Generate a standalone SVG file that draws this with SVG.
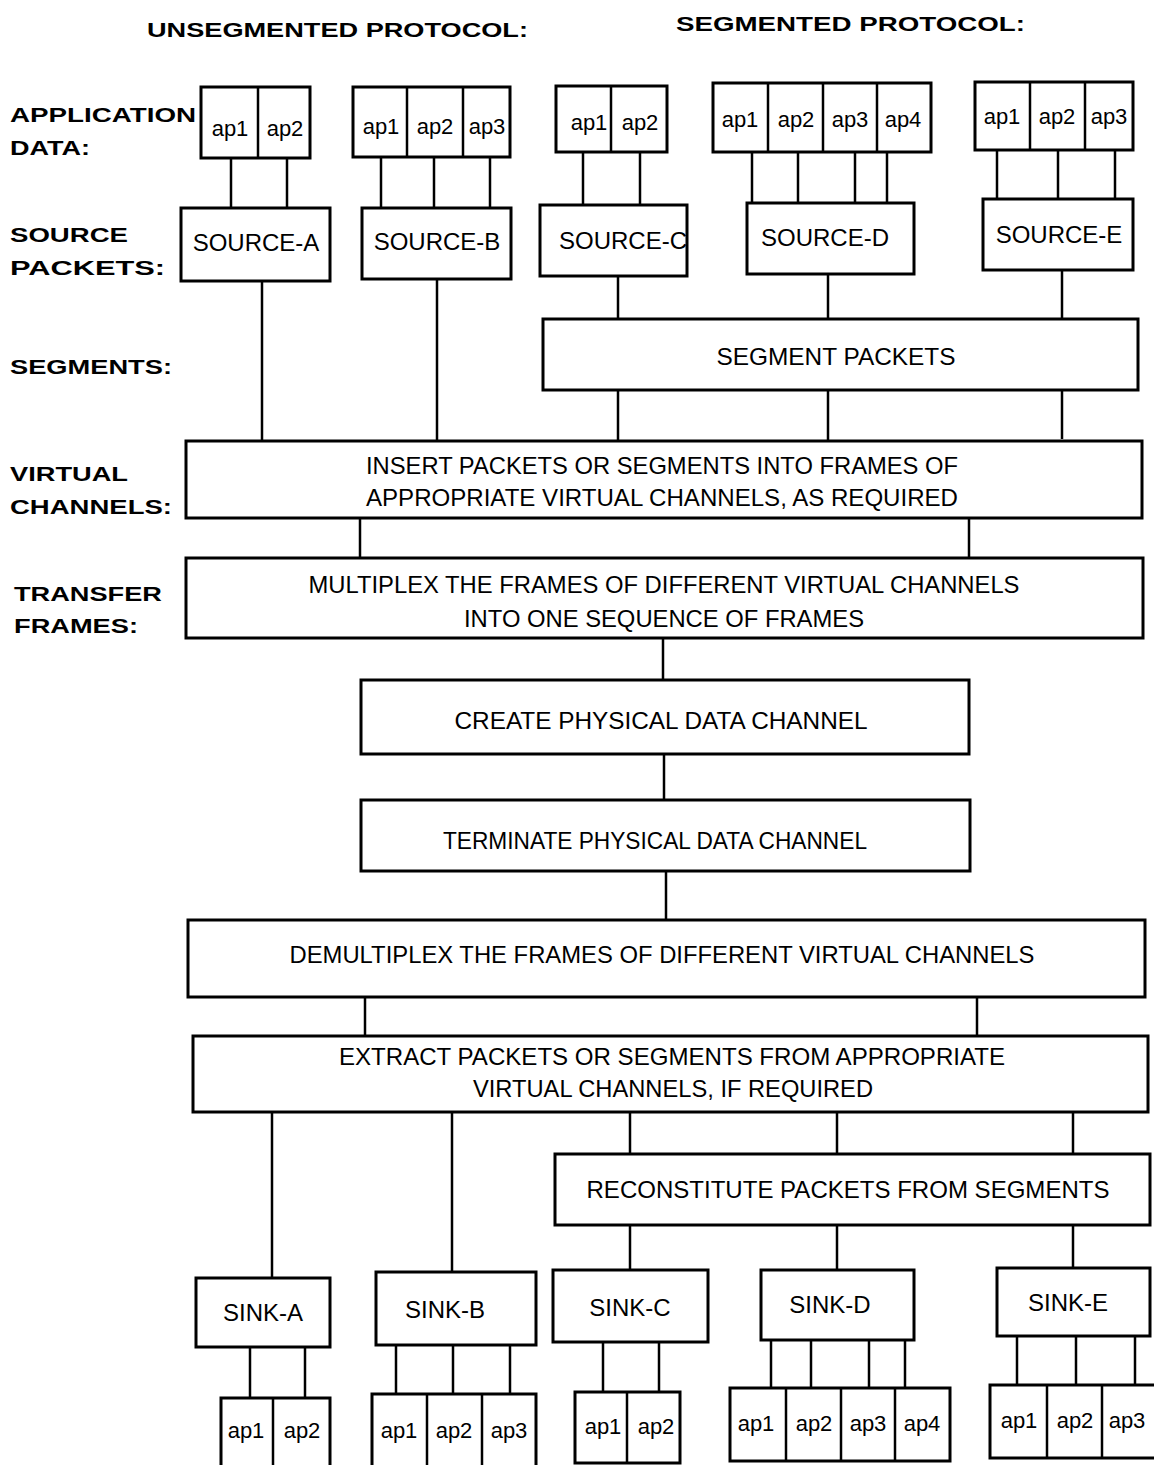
<svg xmlns="http://www.w3.org/2000/svg" width="1154" height="1465" viewBox="0 0 1154 1465">
<style>
.bg{fill:#fff}
.box{fill:#fff;stroke:#000;stroke-width:3}
.dv{stroke:#000;stroke-width:2.5}
.ln{stroke:#000;stroke-width:2.5;fill:none}
.t{font-family:"Liberation Sans",Arial,sans-serif;font-size:24px;text-anchor:middle;fill:#000}
.ap{font-family:"Liberation Sans",Arial,sans-serif;font-size:22px;text-anchor:middle;fill:#000}
.lbl{font-family:"Liberation Sans",Arial,sans-serif;font-size:21px;font-weight:bold;fill:#000}
.hd{font-family:"Liberation Sans",Arial,sans-serif;font-size:21px;font-weight:bold;fill:#000}
</style>
<rect class="bg" x="0" y="0" width="1154" height="1465"/>

<g id="headings">
<text class="hd" x="147" y="37" textLength="381" lengthAdjust="spacingAndGlyphs">UNSEGMENTED  PROTOCOL:</text>
<text class="hd" x="676" y="31" textLength="349" lengthAdjust="spacingAndGlyphs">SEGMENTED  PROTOCOL:</text>
</g>

<g id="row-labels">
<text class="lbl" x="10" y="122" textLength="186" lengthAdjust="spacingAndGlyphs">APPLICATION</text>
<text class="lbl" x="10" y="155" textLength="80" lengthAdjust="spacingAndGlyphs">DATA:</text>
<text class="lbl" x="10" y="242" textLength="118" lengthAdjust="spacingAndGlyphs">SOURCE</text>
<text class="lbl" x="10" y="275" textLength="155" lengthAdjust="spacingAndGlyphs">PACKETS:</text>
<text class="lbl" x="10" y="374" textLength="162" lengthAdjust="spacingAndGlyphs">SEGMENTS:</text>
<text class="lbl" x="10" y="481" textLength="118" lengthAdjust="spacingAndGlyphs">VIRTUAL</text>
<text class="lbl" x="10" y="514" textLength="162" lengthAdjust="spacingAndGlyphs">CHANNELS:</text>
<text class="lbl" x="14" y="601" textLength="148" lengthAdjust="spacingAndGlyphs">TRANSFER</text>
<text class="lbl" x="14" y="633" textLength="124" lengthAdjust="spacingAndGlyphs">FRAMES:</text>
</g>

<g id="connectors">
<line class="ln" x1="231" y1="158" x2="231" y2="208"/>
<line class="ln" x1="287" y1="158" x2="287" y2="208"/>
<line class="ln" x1="381" y1="157" x2="381" y2="208"/>
<line class="ln" x1="434" y1="157" x2="434" y2="208"/>
<line class="ln" x1="490" y1="157" x2="490" y2="208"/>
<line class="ln" x1="583" y1="152" x2="583" y2="205"/>
<line class="ln" x1="640" y1="152" x2="640" y2="205"/>
<line class="ln" x1="752" y1="152" x2="752" y2="203"/>
<line class="ln" x1="798" y1="152" x2="798" y2="203"/>
<line class="ln" x1="855" y1="152" x2="855" y2="203"/>
<line class="ln" x1="887" y1="152" x2="887" y2="203"/>
<line class="ln" x1="997" y1="150" x2="997" y2="199"/>
<line class="ln" x1="1058" y1="150" x2="1058" y2="199"/>
<line class="ln" x1="1115" y1="150" x2="1115" y2="199"/>
<line class="ln" x1="262" y1="281" x2="262" y2="446"/>
<line class="ln" x1="437" y1="279" x2="437" y2="444"/>
<line class="ln" x1="618" y1="276" x2="618" y2="320"/>
<line class="ln" x1="828" y1="274" x2="828" y2="320"/>
<line class="ln" x1="1062" y1="270" x2="1062" y2="320"/>
<line class="ln" x1="618" y1="390" x2="618" y2="442"/>
<line class="ln" x1="828" y1="390" x2="828" y2="441"/>
<line class="ln" x1="1062" y1="390" x2="1062" y2="439"/>
<line class="ln" x1="360" y1="518" x2="360" y2="559"/>
<line class="ln" x1="969" y1="516" x2="969" y2="558"/>
<line class="ln" x1="663" y1="638" x2="663" y2="680"/>
<line class="ln" x1="664" y1="754" x2="664" y2="800"/>
<line class="ln" x1="666" y1="871" x2="666" y2="920"/>
<line class="ln" x1="365" y1="997" x2="365" y2="1037"/>
<line class="ln" x1="977" y1="996" x2="977" y2="1036"/>
<line class="ln" x1="272" y1="1112" x2="272" y2="1278"/>
<line class="ln" x1="452" y1="1112" x2="452" y2="1272"/>
<line class="ln" x1="630" y1="1112" x2="630" y2="1155"/>
<line class="ln" x1="837" y1="1112" x2="837" y2="1154"/>
<line class="ln" x1="1073" y1="1111" x2="1073" y2="1153"/>
<line class="ln" x1="630" y1="1225" x2="630" y2="1270"/>
<line class="ln" x1="837" y1="1224" x2="837" y2="1270"/>
<line class="ln" x1="1073" y1="1223" x2="1073" y2="1268"/>
<line class="ln" x1="250" y1="1347" x2="250" y2="1398"/>
<line class="ln" x1="305" y1="1347" x2="305" y2="1398"/>
<line class="ln" x1="396" y1="1345" x2="396" y2="1394"/>
<line class="ln" x1="453" y1="1345" x2="453" y2="1394"/>
<line class="ln" x1="510" y1="1345" x2="510" y2="1394"/>
<line class="ln" x1="603" y1="1342" x2="603" y2="1392"/>
<line class="ln" x1="659" y1="1342" x2="659" y2="1392"/>
<line class="ln" x1="771" y1="1340" x2="771" y2="1388"/>
<line class="ln" x1="811" y1="1340" x2="811" y2="1388"/>
<line class="ln" x1="869" y1="1340" x2="869" y2="1388"/>
<line class="ln" x1="905" y1="1340" x2="905" y2="1388"/>
<line class="ln" x1="1017" y1="1336" x2="1017" y2="1385"/>
<line class="ln" x1="1076" y1="1336" x2="1076" y2="1385"/>
<line class="ln" x1="1135" y1="1336" x2="1135" y2="1385"/>
</g>

<g id="apdata-A">
<rect class="box" x="201" y="87" width="109" height="71"/>
<line class="dv" x1="258" y1="87" x2="258" y2="158"/>
<text class="ap" x="230" y="136">ap1</text><text class="ap" x="285" y="136">ap2</text>
</g>
<g id="apdata-B">
<rect class="box" x="353" y="87" width="157" height="70"/>
<line class="dv" x1="407" y1="87" x2="407" y2="157"/>
<line class="dv" x1="463" y1="87" x2="463" y2="157"/>
<text class="ap" x="381" y="134">ap1</text><text class="ap" x="435" y="134">ap2</text><text class="ap" x="487" y="134">ap3</text>
</g>
<g id="apdata-C">
<rect class="box" x="556" y="86" width="111" height="66"/>
<line class="dv" x1="611" y1="86" x2="611" y2="152"/>
<text class="ap" x="589" y="130">ap1</text><text class="ap" x="640" y="130">ap2</text>
</g>
<g id="apdata-D">
<rect class="box" x="713" y="83" width="218" height="69"/>
<line class="dv" x1="768" y1="83" x2="768" y2="152"/>
<line class="dv" x1="823" y1="83" x2="823" y2="152"/>
<line class="dv" x1="877" y1="83" x2="877" y2="152"/>
<text class="ap" x="740" y="127">ap1</text><text class="ap" x="796" y="127">ap2</text><text class="ap" x="850" y="127">ap3</text><text class="ap" x="903" y="127">ap4</text>
</g>
<g id="apdata-E">
<rect class="box" x="975" y="82" width="158" height="68"/>
<line class="dv" x1="1030" y1="82" x2="1030" y2="150"/>
<line class="dv" x1="1085" y1="82" x2="1085" y2="150"/>
<text class="ap" x="1002" y="124">ap1</text><text class="ap" x="1057" y="124">ap2</text><text class="ap" x="1109" y="124">ap3</text>
</g>

<g id="source-A"><rect class="box" x="181" y="208" width="149" height="73"/><text class="t" x="256" y="251">SOURCE-A</text></g>
<g id="source-B"><rect class="box" x="362" y="208" width="149" height="71"/><text class="t" x="437" y="250">SOURCE-B</text></g>
<g id="source-C"><rect class="box" x="540" y="205" width="147" height="71"/><text class="t" x="623" y="249">SOURCE-C</text></g>
<g id="source-D"><rect class="box" x="747" y="203" width="167" height="71"/><text class="t" x="825" y="246">SOURCE-D</text></g>
<g id="source-E"><rect class="box" x="983" y="199" width="150" height="71"/><text class="t" x="1059" y="243">SOURCE-E</text></g>

<g id="segment-packets"><rect class="box" x="543" y="319" width="595" height="71"/><text class="t" x="836" y="365" textLength="239" lengthAdjust="spacingAndGlyphs">SEGMENT PACKETS</text></g>

<g id="virtual-channels"><rect class="box" x="186" y="441" width="956" height="77"/>
<text class="t" x="662" y="474" textLength="592" lengthAdjust="spacingAndGlyphs">INSERT PACKETS OR SEGMENTS INTO FRAMES OF</text>
<text class="t" x="662" y="506" textLength="592" lengthAdjust="spacingAndGlyphs">APPROPRIATE VIRTUAL CHANNELS, AS REQUIRED</text></g>

<g id="multiplex"><rect class="box" x="186" y="558" width="957" height="80"/>
<text class="t" x="664" y="593" textLength="711" lengthAdjust="spacingAndGlyphs">MULTIPLEX THE FRAMES OF DIFFERENT VIRTUAL CHANNELS</text>
<text class="t" x="664" y="627" textLength="400" lengthAdjust="spacingAndGlyphs">INTO ONE SEQUENCE OF FRAMES</text></g>

<g id="create"><rect class="box" x="361" y="680" width="608" height="74"/>
<text class="t" x="661" y="729" textLength="413" lengthAdjust="spacingAndGlyphs">CREATE PHYSICAL DATA CHANNEL</text></g>

<g id="terminate"><rect class="box" x="361" y="800" width="609" height="71"/>
<text class="t" x="655" y="849" textLength="424" lengthAdjust="spacingAndGlyphs">TERMINATE PHYSICAL DATA CHANNEL</text></g>

<g id="demultiplex"><rect class="box" x="188" y="920" width="957" height="77"/>
<text class="t" x="662" y="963" textLength="745" lengthAdjust="spacingAndGlyphs">DEMULTIPLEX THE FRAMES OF DIFFERENT VIRTUAL CHANNELS</text></g>

<g id="extract"><rect class="box" x="193" y="1036" width="955" height="76"/>
<text class="t" x="672" y="1065" textLength="666" lengthAdjust="spacingAndGlyphs">EXTRACT PACKETS OR SEGMENTS FROM APPROPRIATE</text>
<text class="t" x="673" y="1097" textLength="400" lengthAdjust="spacingAndGlyphs">VIRTUAL CHANNELS, IF REQUIRED</text></g>

<g id="reconstitute"><rect class="box" x="555" y="1154" width="595" height="71"/>
<text class="t" x="848" y="1198" textLength="523" lengthAdjust="spacingAndGlyphs">RECONSTITUTE PACKETS FROM SEGMENTS</text></g>

<g id="sink-A"><rect class="box" x="196" y="1278" width="134" height="69"/><text class="t" x="263" y="1321">SINK-A</text></g>
<g id="sink-B"><rect class="box" x="376" y="1272" width="160" height="73"/><text class="t" x="445" y="1318">SINK-B</text></g>
<g id="sink-C"><rect class="box" x="553" y="1270" width="155" height="72"/><text class="t" x="630" y="1316">SINK-C</text></g>
<g id="sink-D"><rect class="box" x="761" y="1270" width="153" height="70"/><text class="t" x="830" y="1313">SINK-D</text></g>
<g id="sink-E"><rect class="box" x="997" y="1268" width="153" height="68"/><text class="t" x="1068" y="1311">SINK-E</text></g>

<g id="sinkdata-A">
<rect class="box" x="221" y="1398" width="109" height="70"/>
<line class="dv" x1="273" y1="1398" x2="273" y2="1465"/>
<text class="ap" x="246" y="1438">ap1</text><text class="ap" x="302" y="1438">ap2</text>
</g>
<g id="sinkdata-B">
<rect class="box" x="372" y="1394" width="164" height="73"/>
<line class="dv" x1="427" y1="1394" x2="427" y2="1465"/>
<line class="dv" x1="482" y1="1394" x2="482" y2="1465"/>
<text class="ap" x="399" y="1438">ap1</text><text class="ap" x="454" y="1438">ap2</text><text class="ap" x="509" y="1438">ap3</text>
</g>
<g id="sinkdata-C">
<rect class="box" x="575" y="1392" width="105" height="71"/>
<line class="dv" x1="627" y1="1392" x2="627" y2="1463"/>
<text class="ap" x="603" y="1434">ap1</text><text class="ap" x="656" y="1434">ap2</text>
</g>
<g id="sinkdata-D">
<rect class="box" x="730" y="1388" width="220" height="73"/>
<line class="dv" x1="786" y1="1388" x2="786" y2="1461"/>
<line class="dv" x1="841" y1="1388" x2="841" y2="1461"/>
<line class="dv" x1="895" y1="1388" x2="895" y2="1461"/>
<text class="ap" x="756" y="1431">ap1</text><text class="ap" x="814" y="1431">ap2</text><text class="ap" x="868" y="1431">ap3</text><text class="ap" x="922" y="1431">ap4</text>
</g>
<g id="sinkdata-E">
<rect class="box" x="990" y="1385" width="166" height="73"/>
<line class="dv" x1="1047" y1="1385" x2="1047" y2="1458"/>
<line class="dv" x1="1102" y1="1385" x2="1102" y2="1458"/>
<text class="ap" x="1019" y="1428">ap1</text><text class="ap" x="1075" y="1428">ap2</text><text class="ap" x="1127" y="1428">ap3</text>
</g>
</svg>
